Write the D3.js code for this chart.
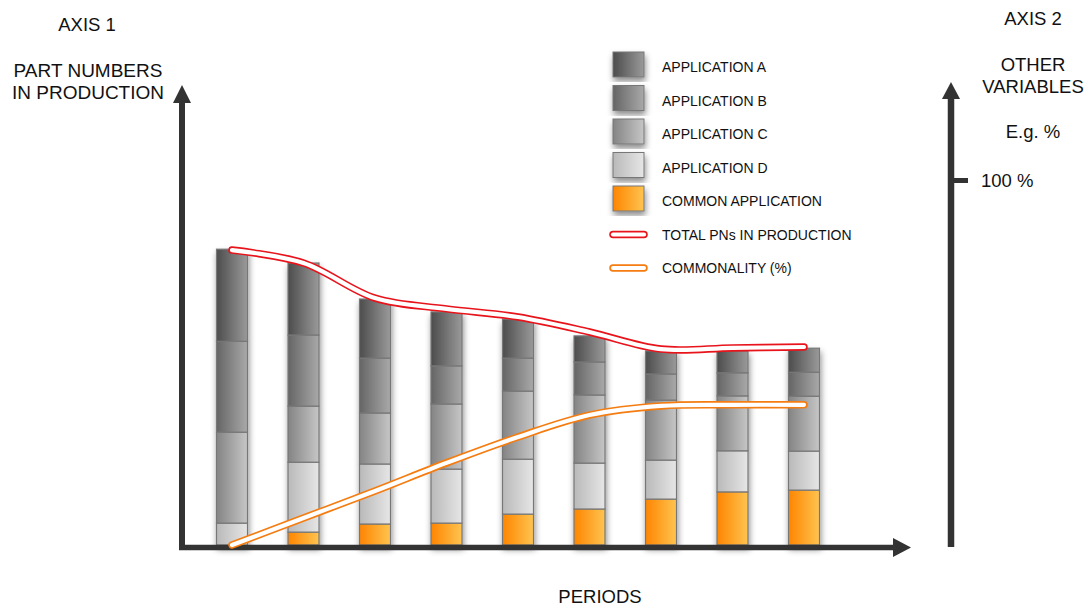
<!DOCTYPE html>
<html>
<head>
<meta charset="utf-8">
<script src="https://cdn.jsdelivr.net/npm/d3@7"></script>
<style>
  html, body { margin: 0; padding: 0; background: #fff; }
  svg { display: block; font-family: "Liberation Sans", Arial, Helvetica, sans-serif; }
</style>
</head>
<body>
<svg id="chart" width="1088" height="607"></svg>
<script>
// ---------- DATA ----------
const periods = [1, 2, 3, 4, 5, 6, 7, 8, 9];
const appA   = [30.7, 24.0, 19.7, 18.0, 13.0, 8.7, 7.7, 7.3, 8.0];
const appB   = [30.3, 23.7, 18.3, 12.7, 11.0, 11.0, 8.7, 7.7, 8.0];
const appC   = [30.3, 18.7, 17.0, 21.7, 22.7, 22.7, 20.0, 18.3, 18.3];
const appD   = [7.3, 23.3, 20.0, 18.0, 18.3, 15.3, 13.0, 13.7, 13.0];
const common = [0, 4.3, 7.0, 7.3, 10.3, 12.0, 15.3, 17.7, 18.3];
const totalPN = [98.3, 94.0, 82.3, 78.7, 76.0, 71.0, 65.3, 65.7, 66.0];
const commonality = [0, 7.4, 14.8, 22.5, 29.6, 35.6, 38.1, 38.4, 38.4];
const seriesKeys = ["common", "appD", "appC", "appB", "appA"]; // bottom -> top
const legendItems = ["APPLICATION A", "APPLICATION B", "APPLICATION C", "APPLICATION D", "COMMON APPLICATION"];
const legendKeys = ["appA", "appB", "appC", "appD", "common"];
const lineLegend = ["TOTAL PNs IN PRODUCTION", "COMMONALITY (%)"];
const rightTicks = [100];

// ---------- SETUP ----------
const svg = d3.select("#chart");
const axisColor = "#333333";
const baseY = 545;

const rows = periods.map((p, i) => ({
  period: p, appA: appA[i], appB: appB[i], appC: appC[i], appD: appD[i], common: common[i]
}));

const x = d3.scalePoint().domain(periods).range([232, 804]);
const y = d3.scaleLinear().domain([0, 100]).range([baseY, 245]);
const yR = d3.scaleLinear().domain([0, 100]).range([baseY, 180]);
const barW = 31;

const grads = {
  appA:   ["#4c4c4c", "#9a9a9a"],
  appB:   ["#656565", "#a9a9a9"],
  appC:   ["#848484", "#c6c6c6"],
  appD:   ["#b9b9b9", "#e6e6e6"],
  common: ["#ff8500", "#ffc450"]
};

const defs = svg.append("defs");
Object.entries(grads).forEach(([k, c]) => {
  const g = defs.append("linearGradient").attr("id", "g-" + k)
    .attr("x1", 0).attr("x2", 1).attr("y1", 0).attr("y2", 0);
  g.append("stop").attr("offset", "0%").attr("stop-color", c[0]);
  g.append("stop").attr("offset", "100%").attr("stop-color", c[1]);
});
const f = defs.append("filter").attr("id", "shadow")
  .attr("x", "-50%").attr("y", "-20%").attr("width", "200%").attr("height", "140%");
f.append("feDropShadow").attr("dx", 1).attr("dy", 4).attr("stdDeviation", 3)
  .attr("flood-color", "#000").attr("flood-opacity", 0.45);
const f2 = defs.append("filter").attr("id", "shadowAll")
  .attr("x", "-10%").attr("y", "-10%").attr("width", "120%").attr("height", "120%");
f2.append("feDropShadow").attr("dx", 1).attr("dy", 4).attr("stdDeviation", 3)
  .attr("flood-color", "#000").attr("flood-opacity", 0.45);

// ---------- BARS ----------
const stack = d3.stack().keys(seriesKeys)(rows);
const barG = svg.append("g").attr("filter", "url(#shadowAll)");
stack.forEach(layer => {
  barG.selectAll(null)
    .data(layer.filter(d => d[1] - d[0] > 0))
    .join("rect")
    .attr("x", d => x(d.data.period) - barW / 2)
    .attr("y", d => y(d[1]))
    .attr("width", barW)
    .attr("height", d => y(d[0]) - y(d[1]))
    .attr("fill", "url(#g-" + layer.key + ")")
    .attr("stroke", "#777")
    .attr("stroke-width", 1.2);
});

// ---------- AXES ----------
const axG = svg.append("g");
// left axis
axG.append("line").attr("x1", 182).attr("x2", 182).attr("y1", 550).attr("y2", 100)
  .attr("stroke", axisColor).attr("stroke-width", 6);
axG.append("path").attr("d", "M182,85 L191,103 L173,103 Z").attr("fill", axisColor);
// bottom axis
axG.append("line").attr("x1", 179).attr("x2", 896).attr("y1", 547.5).attr("y2", 547.5)
  .attr("stroke", axisColor).attr("stroke-width", 5.5);
axG.append("path").attr("d", "M911,547.5 L893,538 L893,557 Z").attr("fill", axisColor);
// right axis
axG.append("line").attr("x1", 951).attr("x2", 951).attr("y1", 547).attr("y2", 96)
  .attr("stroke", axisColor).attr("stroke-width", 6.5);
axG.append("path").attr("d", "M951,82 L960,99 L942,99 Z").attr("fill", axisColor);

const rAxis = svg.append("g").attr("transform", "translate(951,0)")
  .call(d3.axisRight(yR).tickValues(rightTicks).tickFormat(d => d + " %").tickSize(17).tickPadding(13));
rAxis.select(".domain").remove();
rAxis.selectAll(".tick line").attr("stroke", axisColor).attr("stroke-width", 5);
rAxis.selectAll(".tick text").attr("fill", "#111").attr("font-size", "18.5px")
  .attr("font-family", "'Liberation Sans', Arial, sans-serif").attr("dy", "0.36em");

// ---------- LINES ----------
function doubleLine(values, scale, color) {
  const gen = d3.line().x((d, i) => x(periods[i])).y(d => scale(d)).curve(d3.curveCatmullRom.alpha(0.5));
  const g = svg.append("g");
  g.append("path").attr("d", gen(values)).attr("fill", "none").attr("stroke", color)
    .attr("stroke-width", 7.5).attr("stroke-linecap", "round");
  g.append("path").attr("d", gen(values)).attr("fill", "none").attr("stroke", "#fff")
    .attr("stroke-width", 4.2).attr("stroke-linecap", "round");
}
doubleLine(commonality, yR, "#f47c10");
doubleLine(totalPN, y, "#e8141c");

// ---------- TEXT ----------
const txt = (t, xx, yy, size, anchor = "middle") =>
  svg.append("text").attr("x", xx).attr("y", yy).attr("text-anchor", anchor)
    .attr("font-size", size).attr("fill", "#111").text(t);
txt("AXIS 1", 87, 31, "18.5px");
txt("PART NUMBERS", 88, 77, "19px");
txt("IN PRODUCTION", 88, 99, "19px");
txt("AXIS 2", 1033, 25, "18.5px");
txt("OTHER", 1033, 71, "18.5px");
txt("VARIABLES", 1033, 93, "18.5px");
txt("E.g. %", 1033, 138, "18.5px");
txt("PERIODS", 600, 603, "18.5px");

// ---------- LEGEND ----------
const legY = d3.scalePoint().domain(d3.range(legendItems.length + lineLegend.length)).range([72, 273]);
const leg = svg.append("g");
legendItems.forEach((label, i) => {
  const by = legY(i);
  leg.append("rect").attr("x", 613).attr("y", by - 20).attr("width", 31).attr("height", 25)
    .attr("fill", "url(#g-" + legendKeys[i] + ")").attr("stroke", "#777").attr("stroke-width", 1)
    .attr("filter", "url(#shadow)");
  leg.append("text").attr("x", 662).attr("y", by).attr("font-size", "14px").attr("fill", "#111").text(label);
});
const lineColors = ["#e8141c", "#f47c10"];
lineLegend.forEach((label, i) => {
  const by = legY(legendItems.length + i);
  const cy = by - 5;
  leg.append("line").attr("x1", 613).attr("x2", 644).attr("y1", cy).attr("y2", cy)
    .attr("stroke", lineColors[i]).attr("stroke-width", 7.5).attr("stroke-linecap", "round");
  leg.append("line").attr("x1", 613).attr("x2", 644).attr("y1", cy).attr("y2", cy)
    .attr("stroke", "#fff").attr("stroke-width", 4.2).attr("stroke-linecap", "round");
  leg.append("text").attr("x", 662).attr("y", by).attr("font-size", "14px").attr("fill", "#111").text(label);
});
</script>
</body>
</html>
